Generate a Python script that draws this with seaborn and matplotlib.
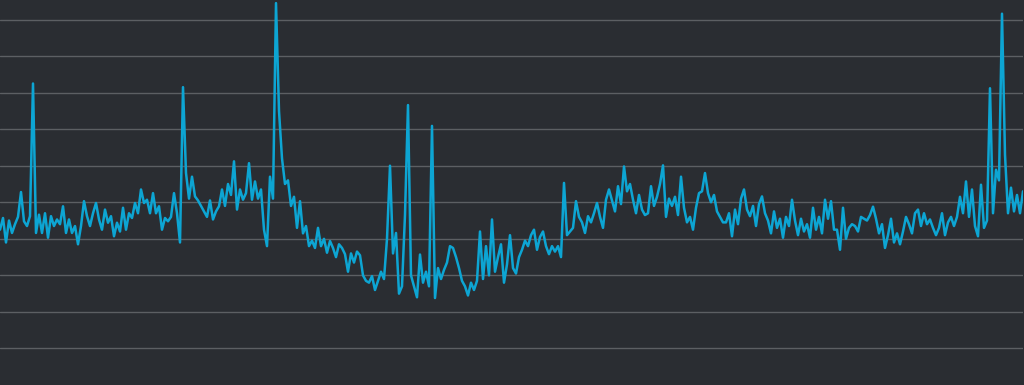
import numpy as np
import pandas as pd
import matplotlib
matplotlib.use("Agg")
import matplotlib.pyplot as plt
import seaborn as sns

# Series values in consecutive stretches (left to right)
seg01 = [42.5, 45.7, 39, 45, 41.6, 44, 46, 52.8, 44.8, 43.5, 46.2, 82.5, 41.6, 46.6, 41.6, 47,
         40.3, 46.2, 43.5, 45.3, 44, 48.9, 41.6, 45.3, 41.6, 43.5, 38.5, 43.5, 50.3, 46.2, 43.5]
seg02 = [47, 49.8, 45.3, 42.5, 48, 44.4, 46.2, 40.7, 44.4, 42, 48.5, 42.5, 47, 45.7, 49.8, 47,
         53.5, 49.8, 50.7, 47, 52.5, 47, 48.9, 42.5, 45.7, 44.8, 46, 52.5, 47, 39, 81.5]
seg03 = [58, 51, 57, 51.6, 50.5, 49, 47.5, 46, 50.5, 45.3, 47.5, 48.9, 53.5, 49, 55, 52,
         61.2, 48, 53.5, 50.7, 52.5, 60.7, 50.7, 55.7, 51, 53.5, 42.5, 38, 57, 51, 104.5]
seg04 = [75, 62, 55, 56, 49, 51.5, 43, 50.3, 41.5, 43.5, 38, 39.5, 37.5, 43, 38, 40,
         36.2, 39.4, 37.5, 35, 38.5, 37.5, 35.8, 31, 36, 33.5, 36.5, 35.5, 30, 28.5, 28]
seg05 = [29.8, 26, 28.5, 31, 29, 40, 60, 36, 41.6, 25, 27, 46.6, 76.6, 30, 27, 24,
         35.7, 28, 31, 27, 70.9, 23.8, 32, 29, 31.5, 33.5, 38, 37.5, 35, 32, 28.5]
seg06 = [27, 24.5, 28, 26, 28.5, 42, 29, 38, 30, 45.3, 31, 35, 38.5, 28, 33, 41,
         32, 30.5, 35, 37, 39.5, 38, 41, 42.5, 37, 40.5, 42, 38, 35.8, 38, 36.5]
seg07 = [38, 35, 55.3, 41, 42, 43, 50.3, 46, 44.5, 41.6, 46.2, 44.5, 47, 49.8, 46, 43,
         50.7, 53.5, 50.5, 47.5, 54.4, 49.5, 59.8, 53, 55, 50.7, 47, 52, 48, 46.5, 47]
seg08 = [54.4, 49, 51.5, 55, 60.1, 46, 51, 49, 51.5, 46.5, 57, 48.5, 44.5, 46, 42.5, 48.5,
         52.5, 53, 58, 52.5, 50, 52, 47.5, 46, 44.5, 44.5, 47, 40.7, 48, 44, 51]
seg09 = [53.5, 48, 46.2, 49, 43.5, 49.5, 51.6, 47, 45, 41.5, 47.5, 43, 45.5, 40.3, 46, 43.5,
         50.7, 45, 41, 45.5, 42, 44, 40.3, 48.5, 42.5, 46, 41.5, 50.7, 45.5, 50.3, 42.5]
seg10 = [42.5, 37, 48.5, 40, 43, 44, 43.5, 42, 46, 45.5, 45, 46.5, 48.8, 45.5, 41.5, 44,
         37.5, 41, 45.5, 39, 41.5, 38.5, 42, 46, 44, 41.5, 47, 48, 43.5, 47, 44]
seg11 = [45.3, 43, 41, 43, 47, 41, 44.5, 46, 43.5, 46, 51.5, 47, 55.7, 46, 53.5, 43.5,
         40.7, 54.8, 43, 45, 81.2, 47, 58.9, 56, 101.6, 63, 47, 54, 47.5, 52, 47, 53]

values = seg01 + seg02 + seg03 + seg04 + seg05 + seg06 + seg07 + seg08 + seg09 + seg10 + seg11
grid_values = [10, 20, 30, 40, 50, 60, 70, 80, 90, 100]

df = pd.DataFrame({"t": np.arange(len(values)), "v": values})

BG = "#2a2d32"
GRID = "#5c5f63"
LINE = "#0da5d3"

sns.set_theme(style="darkgrid", rc={
    "axes.facecolor": BG,
    "figure.facecolor": BG,
    "grid.color": GRID,
    "grid.linewidth": 1.0,
    "axes.edgecolor": BG,
})

fig = plt.figure(figsize=(10.24, 3.85), dpi=100)
ax = fig.add_axes([0, 0, 1023 / 1024, 1])

sns.lineplot(data=df, x="t", y="v", ax=ax, color=LINE, linewidth=1.8, legend=False)

ax.set_xlim(0, len(values) - 1)
ax.set_ylim(0, 105.35)
ax.set_yticks(grid_values)
ax.set_xticks([])
ax.grid(axis="x", visible=False)
ax.grid(axis="y", visible=True)
ax.tick_params(left=False, bottom=False, labelleft=False, labelbottom=False)
ax.set_xlabel("")
ax.set_ylabel("")
for s in ax.spines.values():
    s.set_visible(False)

fig.savefig("out.png", dpi=100, facecolor=BG)
